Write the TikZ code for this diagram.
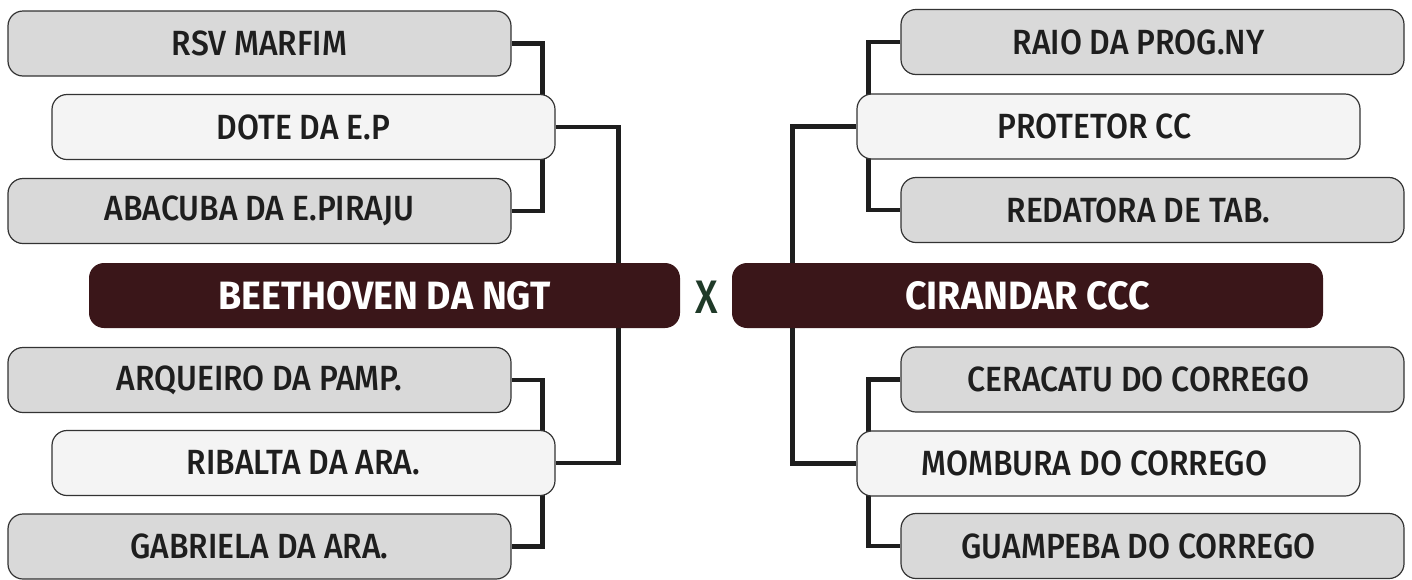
\documentclass[tikz,border=0pt]{standalone}
\usepackage{fontspec}
\setmainfont{Fira Sans}[UprightFont=* Medium, BoldFont=* Bold, FakeStretch=0.91, BoldFeatures={FakeStretch=0.95}]
\usetikzlibrary{backgrounds}
\definecolor{boxgrey}{HTML}{D9D9D9}
\definecolor{boxlight}{HTML}{F4F4F4}
\definecolor{boxdark}{HTML}{3A1619}
\definecolor{edgegrey}{HTML}{333333}
\definecolor{linedark}{HTML}{1E1E1E}
\definecolor{xgreen}{HTML}{1F3A28}
\tikzset{
  teambox/.style={draw=edgegrey, line width=1.2pt, rounded corners=15pt,
    minimum width=503pt, minimum height=65pt, inner sep=0pt,
    text=linedark, font=\fontsize{35}{42}\selectfont},
  greybox/.style={teambox, fill=boxgrey},
  lightbox/.style={teambox, fill=boxlight},
  finalbox/.style={rounded corners=15pt, fill=boxdark, minimum width=591pt,
    minimum height=65pt, inner sep=0pt, text=white,
    font=\fontsize{39.5}{46}\selectfont\bfseries},
  bracket/.style={draw=linedark, line width=4.5pt}
}
\begin{document}
\begin{tikzpicture}[x=1pt,y=-1pt]
\useasboundingbox (0,0) rectangle (1412,579);
% left side
\node[greybox]  (rsv)  at (259.5,43.5) {RSV MARFIM};
\node[lightbox] (dote) at (303.5,127)  {DOTE DA E.P};
\node[greybox]  (aba)  at (259.5,211)  {ABACUBA DA E.PIRAJU};
\node[finalbox] (bee)  at (384.5,295.5) {BEETHOVEN DA NGT};
\node[greybox]  (arq)  at (259.5,380)  {ARQUEIRO DA PAMP.};
\node[lightbox] (rib)  at (303.5,463)  {RIBALTA DA ARA.};
\node[greybox]  (gab)  at (259.5,546.5) {GABRIELA DA ARA.};
% centre
\node[text=xgreen, font=\fontsize{47}{54}\selectfont\addfontfeature{FakeStretch=0.85}, inner sep=0pt] (vs) at (707,297) {X};
% right side
\node[finalbox] (cir)  at (1027.5,295.5) {CIRANDAR CCC};
\node[greybox]  (raio) at (1152.5,42)   {RAIO DA PROG.NY\hspace*{28pt}};
\node[lightbox] (prot) at (1108.5,126.5) {PROTETOR CC\hspace*{28pt}};
\node[greybox]  (red)  at (1152.5,210)  {REDATORA DE TAB.\hspace*{28pt}};
\node[greybox]  (cer)  at (1152.5,379.5) {CERACATU DO CORREGO\hspace*{28pt}};
\node[lightbox] (mom)  at (1108.5,463.5) {MOMBURA DO CORREGO\hspace*{28pt}};
\node[greybox]  (gua)  at (1152.5,546)  {GUAMPEBA DO CORREGO\hspace*{28pt}};
% connectors
\begin{scope}[on background layer]
  \draw[bracket] (rsv.east) -- ++(31,0) |- (aba.east);
  \draw[bracket] (arq.east) -- ++(31,0) |- (gab.east);
  \draw[bracket] (dote.east) -- ++(63,0) |- (rib.east);
  \draw[bracket] (raio.west) -- ++(-32,0) |- (red.west);
  \draw[bracket] (cer.west) -- ++(-32,0) |- (gua.west);
  \draw[bracket] (prot.west) -- ++(-64,0) |- (mom.west);
\end{scope}
\end{tikzpicture}
\end{document}
